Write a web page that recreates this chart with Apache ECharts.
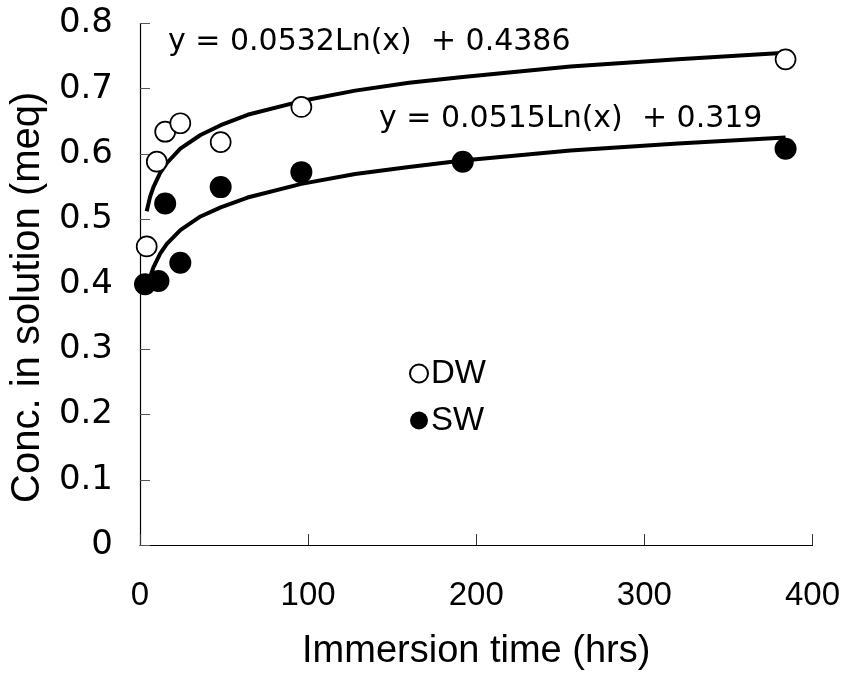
<!DOCTYPE html>
<html>
<head>
<meta charset="utf-8">
<script src="https://cdn.jsdelivr.net/npm/echarts@6/dist/echarts.min.js"></script>
<style>
html,body{margin:0;padding:0;background:#fff;}
#chart{width:843px;height:676px;}
</style>
</head>
<body>
<div id="chart"></div>
<script>
// Measured data (immersion time in hrs, concentration in meq)
const dwTime = [4, 10, 15, 24, 48, 96, 384];
const dwConc = [0.458, 0.588, 0.634, 0.647, 0.618, 0.672, 0.745];
const swTime = [3, 11, 15, 24, 48, 96, 192, 384];
const swConc = [0.400, 0.405, 0.524, 0.433, 0.549, 0.572, 0.588, 0.608];
// Trend curves
const fitTime = [4, 6, 8, 12, 16, 24, 36, 48, 64, 96, 128, 160, 192, 256, 320, 384];
const dwFit = [0.512, 0.534, 0.549, 0.571, 0.586, 0.608, 0.629, 0.644, 0.660, 0.681, 0.697, 0.709, 0.718, 0.734, 0.745, 0.755];
const swFit = [0.390, 0.411, 0.426, 0.447, 0.462, 0.483, 0.504, 0.518, 0.533, 0.554, 0.569, 0.580, 0.590, 0.605, 0.616, 0.625];
const yTickLabels = ['0', '0.1', '0.2', '0.3', '0.4', '0.5', '0.6', '0.7', '0.8'];
const xTickLabels = ['0', '100', '200', '300', '400'];
const seriesNames = ['DW', 'SW'];
const eqDW = 'y = 0.0532Ln(x)  + 0.4386';
const eqSW = 'y = 0.0515Ln(x)  + 0.319';

const pair = (xs, ys) => xs.map((x, i) => [x, ys[i]]);
const FONT = '"Liberation Sans", Arial, sans-serif';

const chart = echarts.init(document.getElementById('chart'), null, {renderer: 'canvas'});
chart.setOption({
  animation: false,
  backgroundColor: '#ffffff',
  grid: {left: 136, right: 29, top: 23.5, bottom: 127.7, containLabel: false},
  xAxis: {
    type: 'value', min: 0, max: 400, interval: 100,
    name: 'Immersion time (hrs)', nameLocation: 'middle', nameGap: 88,
    nameTextStyle: {fontSize: 38, fontFamily: FONT, color: '#000'},
    axisLine: {show: true, lineStyle: {color: '#000', width: 1.2}},
    axisTick: {show: true, inside: true, length: 11, lineStyle: {color: '#333', width: 1}},
    axisLabel: {fontSize: 33, fontFamily: FONT, color: '#000', margin: 34,
      formatter: (v) => xTickLabels[Math.round(v / 100)]},
    splitLine: {show: false}
  },
  yAxis: {
    type: 'value', min: 0, max: 0.8, interval: 0.1,
    name: 'Conc. in solution (meq)', nameLocation: 'middle', nameGap: 88,
    nameTextStyle: {fontSize: 40, fontFamily: FONT, color: '#000', padding: [0, 26, 0, 0]},
    axisLine: {show: true, lineStyle: {color: '#000', width: 1.2}},
    axisTick: {show: true, inside: true, length: 10, lineStyle: {color: '#555', width: 1}},
    axisLabel: {fontSize: 34, fontFamily: '"DejaVu Sans", sans-serif', color: '#000', margin: 27,
      formatter: (v) => yTickLabels[Math.round(v * 10)]},
    splitLine: {show: false}
  },
  legend: {
    data: seriesNames,
    orient: 'vertical', left: 404, top: 352,
    icon: 'circle', itemWidth: 18, itemHeight: 18, itemGap: 14,
    textStyle: {fontSize: 33, fontFamily: FONT, color: '#000', padding: [0, 0, 0, -2]}
  },
  graphic: [
    {type: 'text', left: 168, top: 27, style: {text: eqDW, fontSize: 30, fontFamily: '"DejaVu Sans", sans-serif', fill: '#000'}},
    {type: 'text', left: 379, top: 104, style: {text: eqSW, fontSize: 30, fontFamily: '"DejaVu Sans", sans-serif', fill: '#000'}}
  ],
  series: [
    {name: 'DW fit', type: 'line', data: pair(fitTime, dwFit), showSymbol: false, symbol: 'none',
      lineStyle: {color: '#000', width: 4}, z: 2, silent: true},
    {name: 'SW fit', type: 'line', data: pair(fitTime, swFit), showSymbol: false, symbol: 'none',
      lineStyle: {color: '#000', width: 4}, z: 2, silent: true},
    {name: 'DW', type: 'scatter', data: pair(dwTime, dwConc), symbol: 'circle', symbolSize: 20,
      itemStyle: {color: '#fff', borderColor: '#000', borderWidth: 1.7, opacity: 1}, z: 5},
    {name: 'SW', type: 'scatter', data: pair(swTime, swConc), symbol: 'circle', symbolSize: 22,
      itemStyle: {color: '#000', borderColor: '#000', borderWidth: 0, opacity: 1}, z: 6}
  ]
});
</script>
</body>
</html>
